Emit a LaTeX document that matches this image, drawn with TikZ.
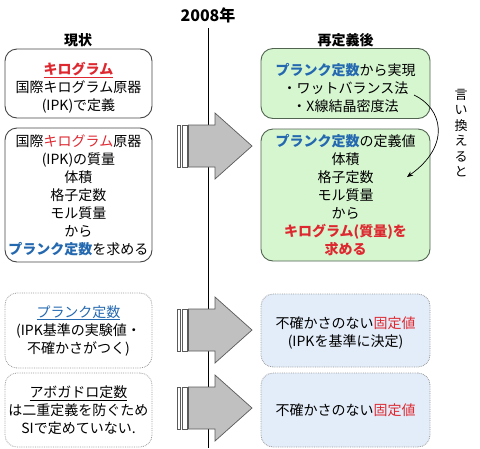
\documentclass[tikz,border=0pt]{standalone}
\usepackage{fontspec}
\setmainfont{Noto Sans CJK JP}
\usetikzlibrary{arrows.meta}
\definecolor{kred}{RGB}{222,40,48}
\definecolor{pblue}{RGB}{36,104,176}
\definecolor{gfill}{RGB}{214,246,208}
\definecolor{gedge}{RGB}{80,100,80}
\definecolor{bfill}{RGB}{227,237,250}
\definecolor{agray}{RGB}{192,192,192}
\definecolor{aedge}{RGB}{90,90,90}
\definecolor{bedge}{RGB}{70,70,70}
\tikzset{
  box/.style={rounded corners=12pt, align=center, inner sep=0pt,
    font=\fontsize{14}{18}\selectfont},
  txt/.style={align=center, inner sep=0pt, font=\fontsize{14}{18}\selectfont},
  leftbox/.style={box, minimum width=147pt},
  rightbox/.style={box, minimum width=169pt},
  solidbox/.style={draw=bedge, line width=0.9pt, fill=white},
  greenbox/.style={draw=gedge, line width=0.9pt, fill=gfill},
  dotbox/.style={draw=gray!80, densely dotted, line width=0.8pt},
  bluebox/.style={draw=gray!80, densely dotted, line width=0.8pt, fill=bfill},
  head/.style={font=\fontsize{14}{16}\selectfont\bfseries},
  arrbody/.style={fill=agray, draw=aedge, line width=0.7pt},
  arrbar/.style={fill=white, draw=aedge, line width=0.6pt},
}
\newcommand\kr[1]{\textcolor{kred}{#1}}
\newcommand\pb[1]{\textcolor{pblue}{\bfseries #1}}
% big arrow: #1 = y centre
\newcommand\bigarr[1]{%
  \draw[arrbar] (177,#1-21) rectangle (180.5,#1+21);
  \draw[arrbar] (182,#1-21) rectangle (187,#1+21);
  \draw[arrbody] (188.5,#1-21) -- (215,#1-21) -- (215,#1-33) -- (252,#1)
     -- (215,#1+33) -- (215,#1+21) -- (188.5,#1+21) -- cycle;
}
\begin{document}
\begin{tikzpicture}[x=1pt,y=-1pt]
\useasboundingbox (0,0) rectangle (480,448);
% timeline
\node[font=\fontsize{16}{18}\selectfont\bfseries] (year) at (208,15) {2008年};
\coordinate (lbot) at (208,448);
\draw[line width=0.8pt] (208,28) -- (lbot);
% headings
\node[head] (now) at (78,40) {現状};
\node[head] (after) at (345.5,40) {再定義後};
% left boxes
\node[leftbox, solidbox, minimum height=69pt] (L1) at (78.5,83.5) {};
\node[txt] (L1t) at (78.5,88)
  {\textcolor{kred}{\bfseries\underline{キログラム}}\\国際キログラム原器\\(IPK)で定義};
\node[leftbox, solidbox, minimum height=134pt] (L2) at (78.5,195)
  {国際\kr{キログラム}原器\\(IPK)の質量\\体積\\格子定数\\モル質量\\から\\\pb{プランク定数}を求める};
\node[leftbox, dotbox, minimum height=75pt] (L3) at (78.5,330.5)
  {\textcolor{pblue}{\underline{プランク定数}}\\(IPK基準の実験値・\\不確かさがつく)};
\node[leftbox, dotbox, minimum height=74pt] (L4) at (78.5,410)
  {\underline{アボガドロ定数}\\は二重定義を防ぐため\\SIで定めていない.};
% arrows
\bigarr{146}
\bigarr{330}
\bigarr{408}
% right boxes
\node[rightbox, greenbox, minimum height=70pt] (R1) at (345.5,83.5) {};
\node[txt] (R1t) at (345.5,88)
  {\pb{プランク定数}から実現\\・ワットバランス法\\・X線結晶密度法};
\node[rightbox, greenbox, minimum height=132pt] (R2) at (345.5,195)
  {\pb{プランク定数}の定義値\\体積\\格子定数\\モル質量\\から\\\textcolor{kred}{\bfseries キログラム(質量)を}\\\textcolor{kred}{\bfseries 求める}};
\node[rightbox, bluebox, minimum height=73pt] (R3) at (345.5,330.5) {};
\node[txt] (R3t) at (345.5,333)
  {不確かさのない\kr{固定値}\\(IPKを基準に決定)};
\node[rightbox, bluebox, minimum height=74pt] (R4) at (345.5,410)
  {不確かさのない\kr{固定値}};
% rephrase arrow
\coordinate (cs) at (414,95);
\coordinate (ce) at (407,177);
\draw[line width=0.7pt, -{Stealth[length=6pt,width=5pt]}] (cs) .. controls (442,108) and (452,145) .. (ce);
\node[font=\fontsize{13}{15.5}\selectfont, align=center, inner sep=0pt] (say) at (461,133)
  {言\\い\\換\\え\\る\\と};
\end{tikzpicture}
\end{document}
